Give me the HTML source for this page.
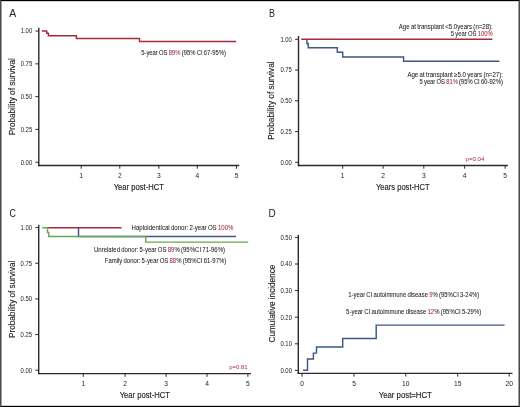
<!DOCTYPE html><html><head><meta charset="utf-8"><style>html,body{margin:0;padding:0;background:#fff;}body{width:520px;height:407px;overflow:hidden;}svg{display:block;will-change:transform;font-family:"Liberation Sans",sans-serif;}</style></head><body>
<svg width="520" height="407" viewBox="0 0 520 407">
<rect x="0" y="0" width="520" height="407" fill="#fff"/>
<text x="9.20" y="16.50" font-size="10.8" textLength="7.0" lengthAdjust="spacingAndGlyphs" fill="#222">A</text>
<line x1="38.8" y1="27.7" x2="38.8" y2="166.2" stroke="#2a2a2a" stroke-width="1.4"/>
<line x1="38.099999999999994" y1="165.5" x2="239.3" y2="165.5" stroke="#2a2a2a" stroke-width="1.4"/>
<line x1="35.4" y1="31.05" x2="38.8" y2="31.05" stroke="#2a2a2a" stroke-width="1"/>
<text x="32.20" y="33.45" font-size="6.7" text-anchor="end" textLength="11.5" lengthAdjust="spacingAndGlyphs" fill="#222">1.00</text>
<line x1="35.4" y1="63.84" x2="38.8" y2="63.84" stroke="#2a2a2a" stroke-width="1"/>
<text x="32.20" y="66.24" font-size="6.7" text-anchor="end" textLength="11.5" lengthAdjust="spacingAndGlyphs" fill="#222">0.75</text>
<line x1="35.4" y1="96.63" x2="38.8" y2="96.63" stroke="#2a2a2a" stroke-width="1"/>
<text x="32.20" y="99.03" font-size="6.7" text-anchor="end" textLength="11.5" lengthAdjust="spacingAndGlyphs" fill="#222">0.50</text>
<line x1="35.4" y1="129.41" x2="38.8" y2="129.41" stroke="#2a2a2a" stroke-width="1"/>
<text x="32.20" y="131.81" font-size="6.7" text-anchor="end" textLength="11.5" lengthAdjust="spacingAndGlyphs" fill="#222">0.25</text>
<line x1="35.4" y1="162.2" x2="38.8" y2="162.2" stroke="#2a2a2a" stroke-width="1"/>
<text x="32.20" y="164.60" font-size="6.7" text-anchor="end" textLength="11.5" lengthAdjust="spacingAndGlyphs" fill="#222">0.00</text>
<line x1="81.2" y1="165.5" x2="81.2" y2="168.7" stroke="#2a2a2a" stroke-width="1"/>
<text x="81.20" y="177.70" font-size="6.7" text-anchor="middle" fill="#222">1</text>
<line x1="119.8" y1="165.5" x2="119.8" y2="168.7" stroke="#2a2a2a" stroke-width="1"/>
<text x="119.80" y="177.70" font-size="6.7" text-anchor="middle" fill="#222">2</text>
<line x1="158.9" y1="165.5" x2="158.9" y2="168.7" stroke="#2a2a2a" stroke-width="1"/>
<text x="158.90" y="177.70" font-size="6.7" text-anchor="middle" fill="#222">3</text>
<line x1="197.3" y1="165.5" x2="197.3" y2="168.7" stroke="#2a2a2a" stroke-width="1"/>
<text x="197.30" y="177.70" font-size="6.7" text-anchor="middle" fill="#222">4</text>
<line x1="236.5" y1="165.5" x2="236.5" y2="168.7" stroke="#2a2a2a" stroke-width="1"/>
<text x="236.50" y="177.70" font-size="6.7" text-anchor="middle" fill="#222">5</text>
<text x="113.70" y="189.70" font-size="8.7" textLength="50.3" lengthAdjust="spacingAndGlyphs" fill="#222" stroke="#222" stroke-width="0.15">Year post-HCT</text>
<text transform="translate(14.70,135.20) rotate(-90)" x="0" y="0" font-size="8.4" textLength="77.0" lengthAdjust="spacingAndGlyphs" fill="#222" stroke="#222" stroke-width="0.15">Probability of survival</text>
<polyline points="41.90,31.05 46.70,31.05 46.70,33.30 48.40,33.30 48.40,35.70 76.40,35.70 76.40,38.40 139.50,38.40 139.50,41.50 236.20,41.50" fill="none" stroke="#a52a3f" stroke-width="1.45" stroke-linejoin="miter" stroke-linecap="butt"/>
<text x="141.20" y="55.30" font-size="6.6" textLength="84.8" lengthAdjust="spacingAndGlyphs" word-spacing="-0.45" fill="#222" stroke="#222" stroke-width="0.05">5-year OS <tspan fill="#a52a3f" stroke="#a52a3f">89%</tspan> (95% CI 67-95%)</text>
<text x="269.10" y="16.90" font-size="10.8" textLength="6.0" lengthAdjust="spacingAndGlyphs" fill="#222">B</text>
<line x1="298.5" y1="36.0" x2="298.5" y2="166.2" stroke="#2a2a2a" stroke-width="1.4"/>
<line x1="297.8" y1="165.5" x2="507.9" y2="165.5" stroke="#2a2a2a" stroke-width="1.4"/>
<line x1="295.1" y1="39.3" x2="298.5" y2="39.3" stroke="#2a2a2a" stroke-width="1"/>
<text x="291.90" y="41.70" font-size="6.7" text-anchor="end" textLength="11.5" lengthAdjust="spacingAndGlyphs" fill="#222">1.00</text>
<line x1="295.1" y1="70.05" x2="298.5" y2="70.05" stroke="#2a2a2a" stroke-width="1"/>
<text x="291.90" y="72.45" font-size="6.7" text-anchor="end" textLength="11.5" lengthAdjust="spacingAndGlyphs" fill="#222">0.75</text>
<line x1="295.1" y1="100.8" x2="298.5" y2="100.8" stroke="#2a2a2a" stroke-width="1"/>
<text x="291.90" y="103.20" font-size="6.7" text-anchor="end" textLength="11.5" lengthAdjust="spacingAndGlyphs" fill="#222">0.50</text>
<line x1="295.1" y1="131.55" x2="298.5" y2="131.55" stroke="#2a2a2a" stroke-width="1"/>
<text x="291.90" y="133.95" font-size="6.7" text-anchor="end" textLength="11.5" lengthAdjust="spacingAndGlyphs" fill="#222">0.25</text>
<line x1="295.1" y1="162.3" x2="298.5" y2="162.3" stroke="#2a2a2a" stroke-width="1"/>
<text x="291.90" y="164.70" font-size="6.7" text-anchor="end" textLength="11.5" lengthAdjust="spacingAndGlyphs" fill="#222">0.00</text>
<line x1="342.7" y1="165.5" x2="342.7" y2="168.7" stroke="#2a2a2a" stroke-width="1"/>
<text x="342.70" y="177.80" font-size="6.7" text-anchor="middle" fill="#222">1</text>
<line x1="383.1" y1="165.5" x2="383.1" y2="168.7" stroke="#2a2a2a" stroke-width="1"/>
<text x="383.10" y="177.80" font-size="6.7" text-anchor="middle" fill="#222">2</text>
<line x1="423.8" y1="165.5" x2="423.8" y2="168.7" stroke="#2a2a2a" stroke-width="1"/>
<text x="423.80" y="177.80" font-size="6.7" text-anchor="middle" fill="#222">3</text>
<line x1="464.7" y1="165.5" x2="464.7" y2="168.7" stroke="#2a2a2a" stroke-width="1"/>
<text x="464.70" y="177.80" font-size="6.7" text-anchor="middle" fill="#222">4</text>
<line x1="505.1" y1="165.5" x2="505.1" y2="168.7" stroke="#2a2a2a" stroke-width="1"/>
<text x="505.10" y="177.80" font-size="6.7" text-anchor="middle" fill="#222">5</text>
<text x="376.00" y="189.80" font-size="8.7" textLength="53.6" lengthAdjust="spacingAndGlyphs" fill="#222" stroke="#222" stroke-width="0.15">Years post-HCT</text>
<text transform="translate(274.30,139.70) rotate(-90)" x="0" y="0" font-size="8.4" textLength="78.4" lengthAdjust="spacingAndGlyphs" fill="#222" stroke="#222" stroke-width="0.15">Probability of survival</text>
<polyline points="306.90,39.30 306.90,39.30 306.90,43.40 308.20,43.40 308.20,47.80 337.30,47.80 337.30,52.30 342.70,52.30 342.70,56.90 403.60,56.90 403.60,61.30 499.40,61.30" fill="none" stroke="#3d5884" stroke-width="1.45" stroke-linejoin="miter" stroke-linecap="butt"/>
<polyline points="301.30,39.30 492.40,39.30" fill="none" stroke="#a52a3f" stroke-width="1.45" stroke-linejoin="miter" stroke-linecap="butt"/>
<text x="398.80" y="28.90" font-size="6.6" textLength="94.0" lengthAdjust="spacingAndGlyphs" word-spacing="-0.45" fill="#222" stroke="#222" stroke-width="0.05">Age at transplant &lt;5.0years (n=28):</text>
<text x="450.70" y="36.20" font-size="6.6" textLength="42.1" lengthAdjust="spacingAndGlyphs" word-spacing="-0.45" fill="#222" stroke="#222" stroke-width="0.05">5 year OS <tspan fill="#a52a3f" stroke="#a52a3f">100%</tspan></text>
<text x="407.40" y="76.60" font-size="6.6" textLength="95.6" lengthAdjust="spacingAndGlyphs" word-spacing="-0.45" fill="#222" stroke="#222" stroke-width="0.05">Age at transplant ≥5.0 years (n=27):</text>
<text x="419.50" y="84.00" font-size="6.6" textLength="83.5" lengthAdjust="spacingAndGlyphs" word-spacing="-0.45" fill="#222" stroke="#222" stroke-width="0.05">5 year OS <tspan fill="#a52a3f" stroke="#a52a3f">81%</tspan> (95% CI 60-92%)</text>
<text x="465.60" y="160.90" font-size="5.9" textLength="18.8" lengthAdjust="spacingAndGlyphs" fill="#a52a3f">p=0.04</text>
<text x="9.40" y="216.60" font-size="11.0" textLength="6.4" lengthAdjust="spacingAndGlyphs" fill="#222">C</text>
<line x1="38.7" y1="224.8" x2="38.7" y2="374.3" stroke="#2a2a2a" stroke-width="1.4"/>
<line x1="38.0" y1="373.6" x2="250.9" y2="373.6" stroke="#2a2a2a" stroke-width="1.4"/>
<line x1="35.300000000000004" y1="227.6" x2="38.7" y2="227.6" stroke="#2a2a2a" stroke-width="1"/>
<text x="32.10" y="230.00" font-size="6.7" text-anchor="end" textLength="11.5" lengthAdjust="spacingAndGlyphs" fill="#222">1.00</text>
<line x1="35.300000000000004" y1="263.25" x2="38.7" y2="263.25" stroke="#2a2a2a" stroke-width="1"/>
<text x="32.10" y="265.65" font-size="6.7" text-anchor="end" textLength="11.5" lengthAdjust="spacingAndGlyphs" fill="#222">0.75</text>
<line x1="35.300000000000004" y1="298.9" x2="38.7" y2="298.9" stroke="#2a2a2a" stroke-width="1"/>
<text x="32.10" y="301.30" font-size="6.7" text-anchor="end" textLength="11.5" lengthAdjust="spacingAndGlyphs" fill="#222">0.50</text>
<line x1="35.300000000000004" y1="334.55" x2="38.7" y2="334.55" stroke="#2a2a2a" stroke-width="1"/>
<text x="32.10" y="336.95" font-size="6.7" text-anchor="end" textLength="11.5" lengthAdjust="spacingAndGlyphs" fill="#222">0.25</text>
<line x1="35.300000000000004" y1="370.2" x2="38.7" y2="370.2" stroke="#2a2a2a" stroke-width="1"/>
<text x="32.10" y="372.60" font-size="6.7" text-anchor="end" textLength="11.5" lengthAdjust="spacingAndGlyphs" fill="#222">0.00</text>
<line x1="83.3" y1="373.6" x2="83.3" y2="376.8" stroke="#2a2a2a" stroke-width="1"/>
<text x="83.30" y="385.60" font-size="6.7" text-anchor="middle" fill="#222">1</text>
<line x1="125.1" y1="373.6" x2="125.1" y2="376.8" stroke="#2a2a2a" stroke-width="1"/>
<text x="125.10" y="385.60" font-size="6.7" text-anchor="middle" fill="#222">2</text>
<line x1="166.1" y1="373.6" x2="166.1" y2="376.8" stroke="#2a2a2a" stroke-width="1"/>
<text x="166.10" y="385.60" font-size="6.7" text-anchor="middle" fill="#222">3</text>
<line x1="207.0" y1="373.6" x2="207.0" y2="376.8" stroke="#2a2a2a" stroke-width="1"/>
<text x="207.00" y="385.60" font-size="6.7" text-anchor="middle" fill="#222">4</text>
<line x1="247.9" y1="373.6" x2="247.9" y2="376.8" stroke="#2a2a2a" stroke-width="1"/>
<text x="247.90" y="385.60" font-size="6.7" text-anchor="middle" fill="#222">5</text>
<text x="119.70" y="397.80" font-size="8.7" textLength="50.2" lengthAdjust="spacingAndGlyphs" fill="#222" stroke="#222" stroke-width="0.15">Year post-HCT</text>
<text transform="translate(14.60,338.00) rotate(-90)" x="0" y="0" font-size="8.4" textLength="77.4" lengthAdjust="spacingAndGlyphs" fill="#222" stroke="#222" stroke-width="0.15">Probability of survival</text>
<polyline points="78.50,227.70 78.50,227.70 78.50,236.50 235.90,236.50" fill="none" stroke="#3d5884" stroke-width="1.45" stroke-linejoin="miter" stroke-linecap="butt"/>
<polyline points="47.90,227.70 121.50,227.70" fill="none" stroke="#a52a3f" stroke-width="1.45" stroke-linejoin="miter" stroke-linecap="butt"/>
<polyline points="42.20,227.70 47.50,227.70 47.50,232.40 48.80,232.40 48.80,236.50 145.70,236.50 145.70,242.10 248.20,242.10" fill="none" stroke="#6aa553" stroke-width="1.45" stroke-linejoin="miter" stroke-linecap="butt"/>
<text x="131.50" y="229.80" font-size="6.6" textLength="102.0" lengthAdjust="spacingAndGlyphs" word-spacing="-0.45" fill="#222" stroke="#222" stroke-width="0.05">Haploidentical donor: 2-year OS <tspan fill="#a52a3f" stroke="#a52a3f">100%</tspan></text>
<text x="94.00" y="251.60" font-size="6.6" textLength="131.0" lengthAdjust="spacingAndGlyphs" word-spacing="-0.45" fill="#222" stroke="#222" stroke-width="0.05">Unrelated donor: 5-year OS <tspan fill="#a52a3f" stroke="#a52a3f">89</tspan>% (95%CI 71-96%)</text>
<text x="104.80" y="263.00" font-size="6.6" textLength="121.4" lengthAdjust="spacingAndGlyphs" word-spacing="-0.45" fill="#222" stroke="#222" stroke-width="0.05">Family donor: 5-year OS <tspan fill="#a52a3f" stroke="#a52a3f">88</tspan>% (95%CI 61-97%)</text>
<text x="229.20" y="368.70" font-size="5.9" textLength="18.4" lengthAdjust="spacingAndGlyphs" fill="#a52a3f">p=0.81</text>
<text x="268.60" y="216.50" font-size="10.8" textLength="7.2" lengthAdjust="spacingAndGlyphs" fill="#222">D</text>
<line x1="298.3" y1="234.8" x2="298.3" y2="374.09999999999997" stroke="#2a2a2a" stroke-width="1.4"/>
<line x1="297.6" y1="373.4" x2="512.5" y2="373.4" stroke="#2a2a2a" stroke-width="1.4"/>
<line x1="294.90000000000003" y1="237.4" x2="298.3" y2="237.4" stroke="#2a2a2a" stroke-width="1"/>
<text x="292.00" y="239.80" font-size="6.7" text-anchor="end" textLength="11.6" lengthAdjust="spacingAndGlyphs" fill="#222">0.50</text>
<line x1="294.90000000000003" y1="264.0" x2="298.3" y2="264.0" stroke="#2a2a2a" stroke-width="1"/>
<text x="292.00" y="266.40" font-size="6.7" text-anchor="end" textLength="11.6" lengthAdjust="spacingAndGlyphs" fill="#222">0.40</text>
<line x1="294.90000000000003" y1="290.6" x2="298.3" y2="290.6" stroke="#2a2a2a" stroke-width="1"/>
<text x="292.00" y="293.00" font-size="6.7" text-anchor="end" textLength="11.6" lengthAdjust="spacingAndGlyphs" fill="#222">0.30</text>
<line x1="294.90000000000003" y1="317.2" x2="298.3" y2="317.2" stroke="#2a2a2a" stroke-width="1"/>
<text x="292.00" y="319.60" font-size="6.7" text-anchor="end" textLength="11.6" lengthAdjust="spacingAndGlyphs" fill="#222">0.20</text>
<line x1="294.90000000000003" y1="343.8" x2="298.3" y2="343.8" stroke="#2a2a2a" stroke-width="1"/>
<text x="292.00" y="346.20" font-size="6.7" text-anchor="end" textLength="11.6" lengthAdjust="spacingAndGlyphs" fill="#222">0.10</text>
<line x1="294.90000000000003" y1="370.4" x2="298.3" y2="370.4" stroke="#2a2a2a" stroke-width="1"/>
<text x="292.00" y="372.80" font-size="6.7" text-anchor="end" textLength="11.6" lengthAdjust="spacingAndGlyphs" fill="#222">0.00</text>
<line x1="302.0" y1="373.4" x2="302.0" y2="376.59999999999997" stroke="#2a2a2a" stroke-width="1"/>
<text x="302.00" y="385.60" font-size="6.7" text-anchor="middle" fill="#222">0</text>
<line x1="354.0" y1="373.4" x2="354.0" y2="376.59999999999997" stroke="#2a2a2a" stroke-width="1"/>
<text x="354.00" y="385.60" font-size="6.7" text-anchor="middle" fill="#222">5</text>
<line x1="405.8" y1="373.4" x2="405.8" y2="376.59999999999997" stroke="#2a2a2a" stroke-width="1"/>
<text x="405.80" y="385.60" font-size="6.7" text-anchor="middle" fill="#222">10</text>
<line x1="457.7" y1="373.4" x2="457.7" y2="376.59999999999997" stroke="#2a2a2a" stroke-width="1"/>
<text x="457.70" y="385.60" font-size="6.7" text-anchor="middle" fill="#222">15</text>
<line x1="509.2" y1="373.4" x2="509.2" y2="376.59999999999997" stroke="#2a2a2a" stroke-width="1"/>
<text x="509.20" y="385.60" font-size="6.7" text-anchor="middle" fill="#222">20</text>
<text x="378.70" y="398.00" font-size="8.7" textLength="53.2" lengthAdjust="spacingAndGlyphs" fill="#222" stroke="#222" stroke-width="0.15">Year post=HCT</text>
<text transform="translate(274.60,342.50) rotate(-90)" x="0" y="0" font-size="8.4" textLength="77.9" lengthAdjust="spacingAndGlyphs" fill="#222" stroke="#222" stroke-width="0.15">Cumulative incidence</text>
<polyline points="303.00,370.20 307.50,370.20 307.50,359.00 313.40,359.00 313.40,353.10 316.50,353.10 316.50,346.90 342.70,346.90 342.70,338.50 376.20,338.50 376.20,325.10 504.60,325.10" fill="none" stroke="#3d5884" stroke-width="1.45" stroke-linejoin="miter" stroke-linecap="butt"/>
<text x="348.30" y="297.20" font-size="6.6" textLength="130.9" lengthAdjust="spacingAndGlyphs" word-spacing="-0.45" fill="#222" stroke="#222" stroke-width="0.05">1-year CI autoimmune disease <tspan fill="#a52a3f" stroke="#a52a3f">9</tspan>% (95%CI 3-24%)</text>
<text x="346.10" y="313.80" font-size="6.6" textLength="135.1" lengthAdjust="spacingAndGlyphs" word-spacing="-0.45" fill="#222" stroke="#222" stroke-width="0.05">5-year CI autoimmune disease <tspan fill="#a52a3f" stroke="#a52a3f">12</tspan>% (95%CI 5-29%)</text>
<rect x="0" y="0" width="520" height="1" fill="#000"/>
<rect x="0" y="406" width="520" height="1" fill="#000"/>
<rect x="0" y="1" width="520" height="1" fill="#d0d0d0"/>
<rect x="0" y="405" width="520" height="1" fill="#d0d0d0"/>
<rect x="0" y="0" width="1" height="407" fill="#4a4a4a"/>
<rect x="1" y="1" width="1" height="405" fill="#a0a0a0"/>
<rect x="519" y="0" width="1" height="407" fill="#4a4a4a"/>
<rect x="518" y="1" width="1" height="405" fill="#a0a0a0"/>
</svg></body></html>
